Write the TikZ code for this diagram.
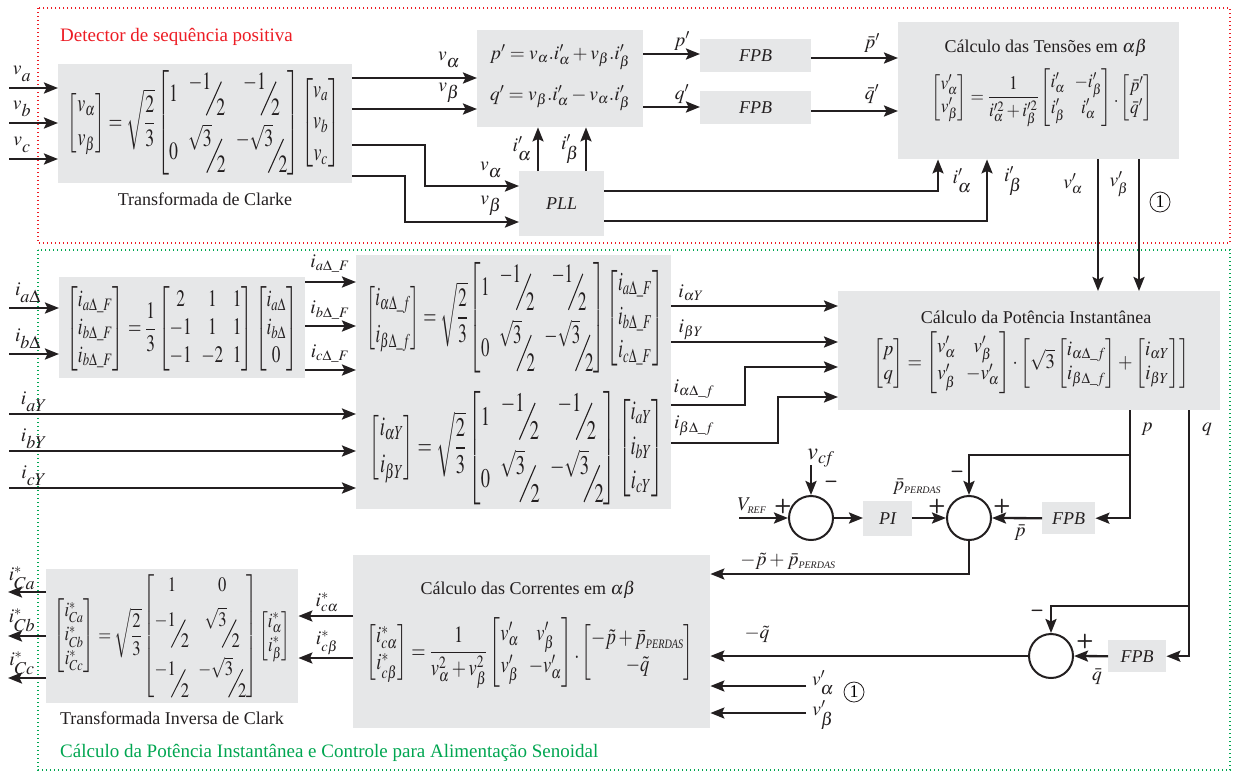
\documentclass[tikz,border=0pt]{standalone}
\usepackage{amsmath}
\usepackage{graphicx}
\usepackage{mathptmx}
\usepackage[no-math]{fontspec}
\setmainfont{Liberation Serif}
\usetikzlibrary{arrows.meta}
\definecolor{boxgray}{RGB}{230,231,232}
\definecolor{ttred}{RGB}{237,28,36}
\definecolor{ttgreen}{RGB}{0,166,81}
\definecolor{ink}{RGB}{35,31,32}
\newcommand\fsz{\fontsize{18}{21}\selectfont}
\newcommand\lsz{\fontsize{19.5}{22}\selectfont}
\newcommand\Bs[1]{_{\raisebox{-0.2em}{\fontsize{18}{18}\selectfont$#1$}}}
\newcommand\Ps[1]{_{\mbox{\fontsize{10}{10}\selectfont\itshape #1}}}
\newcommand\sfr[2]{\mbox{\raisebox{0.5em}{$#1$}\hspace{-0.3em}\raisebox{-0.55em}{\rotatebox{58}{\rule{1.6em}{0.055em}}}\hspace{-0.3em}\raisebox{-0.55em}{$#2$}}}
\newcommand\SqT{\sqrt{\dfrac{2}{3}}}
\newcommand\MatC{\begin{bmatrix}1 & \sfr{-1}{2} & \sfr{-1}{2}\\[10pt] 0 & \sfr{\sqrt{3}}{2} & \sfr{-\sqrt{3}}{2}\end{bmatrix}}
\newcommand\EqClarke{$\begin{bmatrix} v_{\alpha}\\[4pt] v_{\beta}\end{bmatrix}=\SqT\MatC\begin{bmatrix}v_{a}\\[2pt] v_{b}\\[2pt] v_{c}\end{bmatrix}$}
\newcommand\EqBigA{$\begin{bmatrix} i_{\alpha\Delta\_f}\\[4pt] i_{\beta\Delta\_f}\end{bmatrix}=\SqT\MatC\begin{bmatrix}i_{a\Delta\_F}\\[2pt] i_{b\Delta\_F}\\[2pt] i_{c\Delta\_F}\end{bmatrix}$}
\newcommand\EqBigB{$\begin{bmatrix} i_{\alpha Y}\\[4pt] i_{\beta Y}\end{bmatrix}=\SqT\MatC\begin{bmatrix}i_{aY}\\[2pt] i_{bY}\\[2pt] i_{cY}\end{bmatrix}$}
\newcommand\EqDelta{$\begin{bmatrix} i_{a\Delta\_F}\\ i_{b\Delta\_F}\\ i_{b\Delta\_F}\end{bmatrix}=\dfrac{1}{3}\begin{bmatrix}2&1&1\\-1&1&1\\-1&-2&1\end{bmatrix}\begin{bmatrix}i_{a\Delta}\\ i_{b\Delta}\\ 0\end{bmatrix}$}
\newcommand\EqTens{$\begin{bmatrix}v'_{\alpha}\\ v'_{\beta}\end{bmatrix}=\dfrac{1}{i'^{2}_{\alpha}+i'^{2}_{\beta}}\begin{bmatrix}i'_{\alpha}&-i'_{\beta}\\ i'_{\beta}&i'_{\alpha}\end{bmatrix}.\begin{bmatrix}\bar{p}'\\ \bar{q}'\end{bmatrix}$}
\newcommand\EqPot{$\begin{bmatrix}p\\ q\end{bmatrix}=\begin{bmatrix}v'_{\alpha} & v'_{\beta}\\ v'_{\beta} & -v'_{\alpha}\end{bmatrix}\cdot\left[\sqrt{3}\begin{bmatrix}i_{\alpha\Delta\_f}\\ i_{\beta\Delta\_f}\end{bmatrix}+\begin{bmatrix}i_{\alpha Y}\\ i_{\beta Y}\end{bmatrix}\right]$}
\newcommand\EqCorr{$\begin{bmatrix}i^{*}_{c\alpha}\\ i^{*}_{c\beta}\end{bmatrix}=\dfrac{1}{v^{2}_{\alpha}+v^{2}_{\beta}}\begin{bmatrix}v'_{\alpha}&v'_{\beta}\\[4pt] v'_{\beta}&-v'_{\alpha}\end{bmatrix}.\begin{bmatrix}-\tilde{p}+\bar{p}\Ps{PERDAS}\\ -\tilde{q}\end{bmatrix}$}
\newcommand\EqInv{$\begin{bmatrix}i^{*}_{Ca}\\ i^{*}_{Cb}\\ i^{*}_{Cc}\end{bmatrix}=\SqT\begin{bmatrix}1&0\\[8pt] \sfr{-1}{2}&\sfr{\sqrt{3}}{2}\\[12pt] \sfr{-1}{2}&\sfr{-\sqrt{3}}{2}\end{bmatrix}\begin{bmatrix}i^{*}_{\alpha}\\ i^{*}_{\beta}\end{bmatrix}$}
\begin{document}
\begin{tikzpicture}[x=1pt,y=-1pt,
 blk/.style={fill=boxgray,draw=none,inner sep=0pt,anchor=north west},
 arr/.style={draw=ink,line width=2.3pt,-{Stealth[length=14pt,width=11pt,inset=2.5pt]}},
 sumc/.style={circle,draw=ink,line width=2pt,minimum size=44pt,inner sep=0pt},
 lbl/.style={font=\lsz,text=ink,inner sep=0pt},
 txt/.style={font=\fsz,text=ink,inner sep=0pt},
 sgn/.style={font=\sffamily\bfseries\fontsize{20}{20}\selectfont,text=ink,inner sep=0pt},
 one/.style={circle,draw=ink,line width=0.8pt,inner sep=0pt,minimum size=20pt,font=\fsz},
 fx/.style={font=\fsz\itshape,text=ink},
 frame/.style={line width=1.3pt,dash pattern=on 1.3pt off 2.7pt}
]
\useasboundingbox (0,0) rectangle (1233,772);
\fill[white] (0,0) rectangle (1233,772);
% frames
\draw[frame,ttred] (38,8) rectangle (1230,243);
\draw[frame,ttgreen] (38,250) rectangle (1230,770);
\node[txt,text=ttred,anchor=west,font=\fontsize{19}{21}\selectfont] (tdet) at (60,37) {Detector de sequência positiva};
\node[txt,text=ttgreen,anchor=west,font=\fontsize{19}{21}\selectfont] (tgrn) at (60,753) {Cálculo da Potência Instantânea e Controle para Alimentação Senoidal};

% blocks
\node[blk,minimum width=294pt,minimum height=119pt] (clarke) at (58,64) {};
\node[blk,minimum width=166pt,minimum height=97pt] (pq) at (477,30) {};
\node[blk,minimum width=111pt,minimum height=33pt] (fpb1) at (700,39) {};
\node[blk,minimum width=111pt,minimum height=33pt] (fpb2) at (700,91) {};
\node[blk,minimum width=281pt,minimum height=137pt] (tens) at (898,22) {};
\node[blk,minimum width=85pt,minimum height=65pt] (pll) at (519,171) {};
\node[blk,minimum width=246pt,minimum height=101pt] (delta) at (59,277) {};
\node[blk,minimum width=315pt,minimum height=254pt] (big) at (356,255) {};
\node[blk,minimum width=382pt,minimum height=119pt] (pot) at (838,291) {};
\node[blk,minimum width=49pt,minimum height=35pt] (pi) at (863,501) {};
\node[blk,minimum width=53pt,minimum height=32pt] (fpb3) at (1042,502) {};
\node[blk,minimum width=58pt,minimum height=32pt] (fpb4) at (1108,640) {};
\node[blk,minimum width=357pt,minimum height=173pt] (corr) at (353,555) {};
\node[blk,minimum width=252pt,minimum height=134pt] (inv) at (46,569) {};
\node[sumc] (s1) at (811,518) {};
\node[sumc] (s2) at (969,518) {};
\node[sumc] (s3) at (1051,656) {};

% block contents
\node[txt] (eqclarke) at (204,123) {\resizebox*{272pt}{104pt}{\EqClarke}};
\node[txt] (capclarke) at (205,199) {Transformada de Clarke};
\node[txt] (eqp) at (560,57) {\resizebox{140pt}{!}{$p'=v_{\alpha}.i'_{\alpha}+v_{\beta}.i'_{\beta}$}};
\node[txt] (eqq) at (560,98) {\resizebox{140pt}{!}{$q'=v_{\beta}.i'_{\alpha}-v_{\alpha}.i'_{\beta}$}};
\node[fx] (tfpb1) at (fpb1) {FPB};
\node[fx] (tfpb2) at (fpb2) {FPB};
\node[fx] (tpll) at (pll) {PLL};
\node[fx] (tpi) at (pi) {PI};
\node[fx] (tfpb3) at (fpb3) {FPB};
\node[fx] (tfpb4) at (fpb4) {FPB};
\node[txt] (ttens) at (1046,48) {Cálculo das Tensões em $\alpha\beta$};
\node[txt] (eqtens) at (1042,98) {\resizebox*{221pt}{58pt}{\EqTens}};
\node[txt] (eqdelta) at (182,329) {\resizebox*{231pt}{85pt}{\EqDelta}};
\node[txt] (eqbiga) at (515,318) {\resizebox*{297pt}{111pt}{\EqBigA}};
\node[txt] (eqbigb) at (517,448) {\resizebox*{294pt}{113pt}{\EqBigB}};
\node[txt] (tpot) at (1036,317) {Cálculo da Potência Instantânea};
\node[txt] (eqpot) at (1031,363) {\resizebox*{316pt}{62pt}{\EqPot}};
\node[txt] (tcorr) at (528,590) {Cálculo das Correntes em $\alpha\beta$};
\node[txt] (eqcorr) at (530,653) {\resizebox*{327pt}{70pt}{\EqCorr}};
\node[txt] (eqinv) at (172,636) {\resizebox*{237pt}{123pt}{\EqInv}};
\node[txt] (capinv) at (172,718) {Transformada Inversa de Clark};

% free ends
\coordinate (ina) at (9,88);
\coordinate (inb) at (9,123);
\coordinate (inc) at (9,159);
\coordinate (inda) at (9,308);
\coordinate (indb) at (9,354);
\coordinate (inya) at (9,414);
\coordinate (inyb) at (9,451);
\coordinate (inyc) at (9,488);
\coordinate (vref) at (739,518);
\coordinate (vcf) at (811,465);
\coordinate (vpa) at (806,686);
\coordinate (vpb) at (806,713);
\coordinate (oca) at (8,592);
\coordinate (ocb) at (8,636);
\coordinate (occ) at (8,678);
\coordinate (pj) at (1130,455);
\coordinate (qj) at (1189,606);

% top connectors
\draw[arr] (ina) -- (clarke.west |- ina);
\draw[arr] (inb) -- (clarke.west |- inb);
\draw[arr] (inc) -- (clarke.west |- inc);
\draw[arr] (clarke.east |- 0,78) -- (pq.west |- 0,78);
\draw[arr] (clarke.east |- 0,109) -- (pq.west |- 0,109);
\draw[arr] (clarke.east |- 0,145) -| (425,186) -- (pll.west |- 0,186);
\draw[arr] (clarke.east |- 0,176) -| (405,222) -- (pll.west |- 0,222);
\draw[arr] (pll.north -| 538,0) -- (pq.south -| 538,0);
\draw[arr] (pll.north -| 586,0) -- (pq.south -| 586,0);
\draw[arr] (pq.east |- 0,54) -- (fpb1.west |- 0,54);
\draw[arr] (pq.east |- 0,107) -- (fpb2.west |- 0,107);
\draw[arr] (fpb1.east |- 0,58) -- (tens.west |- 0,58);
\draw[arr] (fpb2.east |- 0,111) -- (tens.west |- 0,111);
\draw[arr] (pll.east |- 0,191) -| (tens.south -| 938,0);
\draw[arr] (pll.east |- 0,221) -| (tens.south -| 987,0);
\draw[arr] (tens.south -| 1098,0) -- (pot.north -| 1098,0);
\draw[arr] (tens.south -| 1139,0) -- (pot.north -| 1139,0);

% middle connectors
\draw[arr] (inda) -- (delta.west |- inda);
\draw[arr] (indb) -- (delta.west |- indb);
\draw[arr] (delta.east |- 0,282) -- (big.west |- 0,282);
\draw[arr] (delta.east |- 0,326) -- (big.west |- 0,326);
\draw[arr] (delta.east |- 0,370) -- (big.west |- 0,370);
\draw[arr] (inya) -- (big.west |- inya);
\draw[arr] (inyb) -- (big.west |- inyb);
\draw[arr] (inyc) -- (big.west |- inyc);
\draw[arr] (big.east |- 0,306) -- (pot.west |- 0,306);
\draw[arr] (big.east |- 0,342) -- (pot.west |- 0,342);
\draw[arr] (big.east |- 0,405) -| (745,367) -- (pot.west |- 0,367);
\draw[arr] (big.east |- 0,443) -| (778,397) -- (pot.west |- 0,397);

% control loop
\draw[arr] (pot.south -| pj) |- (fpb3.east);
\draw[arr] (pj) -| (s2.north);
\draw[arr] (fpb3.west) -- (s2.east);
\draw[arr] (vref) -- (s1.west);
\draw[arr] (vcf) -- (s1.north);
\draw[arr] (s1.east) -- (pi.west |- s1.east);
\draw[arr] (pi.east |- s2.west) -- (s2.west);
\draw[arr] (s2.south) |- (corr.east |- 0,574);
\draw[arr] (pot.south -| qj) |- (fpb4.east);
\draw[arr] (qj) -| (s3.north);
\draw[arr] (fpb4.west) -- (s3.east);
\draw[arr] (s3.west) -- (corr.east |- s3.west);
\draw[arr] (vpa) -- (corr.east |- vpa);
\draw[arr] (vpb) -- (corr.east |- vpb);
\draw[arr] (corr.west |- 0,616) -- (inv.east |- 0,616);
\draw[arr] (corr.west |- 0,658) -- (inv.east |- 0,658);
\draw[arr] (inv.west |- oca) -- (oca);
\draw[arr] (inv.west |- ocb) -- (ocb);
\draw[arr] (inv.west |- occ) -- (occ);

% labels top
\node[lbl] (lva) at (22,74) {$v\Bs{a}$};
\node[lbl] (lvb) at (22,109) {$v\Bs{b}$};
\node[lbl] (lvc) at (22,145) {$v\Bs{c}$};
\node[lbl] (lva2) at (449,60) {$v\Bs{\alpha}$};
\node[lbl] (lvb2) at (449,93) {$v\Bs{\beta}$};
\node[lbl] (lva3) at (491,170) {$v\Bs{\alpha}$};
\node[lbl] (lvb3) at (491,206) {$v\Bs{\beta}$};
\node[lbl] (lia1) at (522,149) {$i'\Bs{\alpha}$};
\node[lbl] (lib1) at (570,149) {$i'\Bs{\beta}$};
\node[lbl] (lp) at (682,41) {$p'$};
\node[lbl] (lq) at (682,94) {$q'$};
\node[lbl] (lpb) at (872,43) {$\bar{p}'$};
\node[lbl] (lqb) at (872,94) {$\bar{q}'$};
\node[lbl] (lia2) at (962,181) {$i'\Bs{\alpha}$};
\node[lbl] (lib2) at (1013,181) {$i'\Bs{\beta}$};
\node[lbl] (lvpa) at (1073,184) {$v'_{\alpha}$};
\node[lbl] (lvpb) at (1119,184) {$v'_{\beta}$};
\node[one] (one1) at (1160,202) {1};

% labels middle
\node[lbl] (liad) at (28,293) {$i\Bs{a\Delta}$};
\node[lbl] (libd) at (28,339) {$i\Bs{b\Delta}$};
\node[lbl] (liay) at (34,402) {$i\Bs{aY}$};
\node[lbl] (liby) at (34,439) {$i\Bs{bY}$};
\node[lbl] (licy) at (34,476) {$i\Bs{cY}$};
\node[lbl] (liadf) at (330,264) {$i_{a\Delta\_F}$};
\node[lbl] (libdf) at (330,310) {$i_{b\Delta\_F}$};
\node[lbl] (licdf) at (330,354) {$i_{c\Delta\_F}$};
\node[lbl] (lialy) at (691,293) {$i_{\alpha Y}$};
\node[lbl] (libey) at (691,330) {$i_{\beta Y}$};
\node[lbl] (liald) at (694,389) {$i_{\alpha\Delta\_f}$};
\node[lbl] (libed) at (694,426) {$i_{\beta\Delta\_f}$};
\node[lbl] (lpp) at (1147,429) {$p$};
\node[lbl] (lqq) at (1207,429) {$q$};

% labels control
\node[lbl,font=\fontsize{24}{24}\selectfont] (lvcf) at (821,458) {$v_{c\!f}$};
\node[sgn] (m1) at (831,484) {--};
\node[lbl] (lvref) at (752,506) {$V\Ps{REF}$};
\node[sgn] (p1) at (783,506) {+};
\node[lbl] (lppe) at (917,487) {$\bar{p}\Ps{PERDAS}$};
\node[sgn] (p2) at (937,506) {+};
\node[sgn] (m2) at (957,474) {--};
\node[sgn] (p3) at (1002,506) {+};
\node[lbl] (lpbar) at (1020,533) {$\bar{p}$};
\node[lbl] (lpt) at (788,561) {$-\tilde{p}+\bar{p}\Ps{PERDAS}$};
\node[sgn] (m3) at (1037,613) {--};
\node[sgn] (p4) at (1085,641) {+};
\node[lbl] (lqbar) at (1097,677) {$\bar{q}$};
\node[lbl] (lqt) at (757,634) {$-\tilde{q}$};
\node[lbl] (lvpa2) at (823,683) {$v'\Bs{\alpha}$};
\node[lbl] (lvpb2) at (823,715) {$v'\Bs{\beta}$};
\node[one] (one2) at (854,692) {1};
\node[lbl] (lica) at (327,602) {$i^{*}_{c\alpha}$};
\node[lbl] (licb) at (327,643) {$i^{*}_{c\beta}$};
\node[lbl] (loca) at (22,578) {$i^{*}\Bs{Ca}$};
\node[lbl] (locb) at (22,620) {$i^{*}\Bs{Cb}$};
\node[lbl] (locc) at (22,663) {$i^{*}\Bs{Cc}$};
\end{tikzpicture}
\end{document}
